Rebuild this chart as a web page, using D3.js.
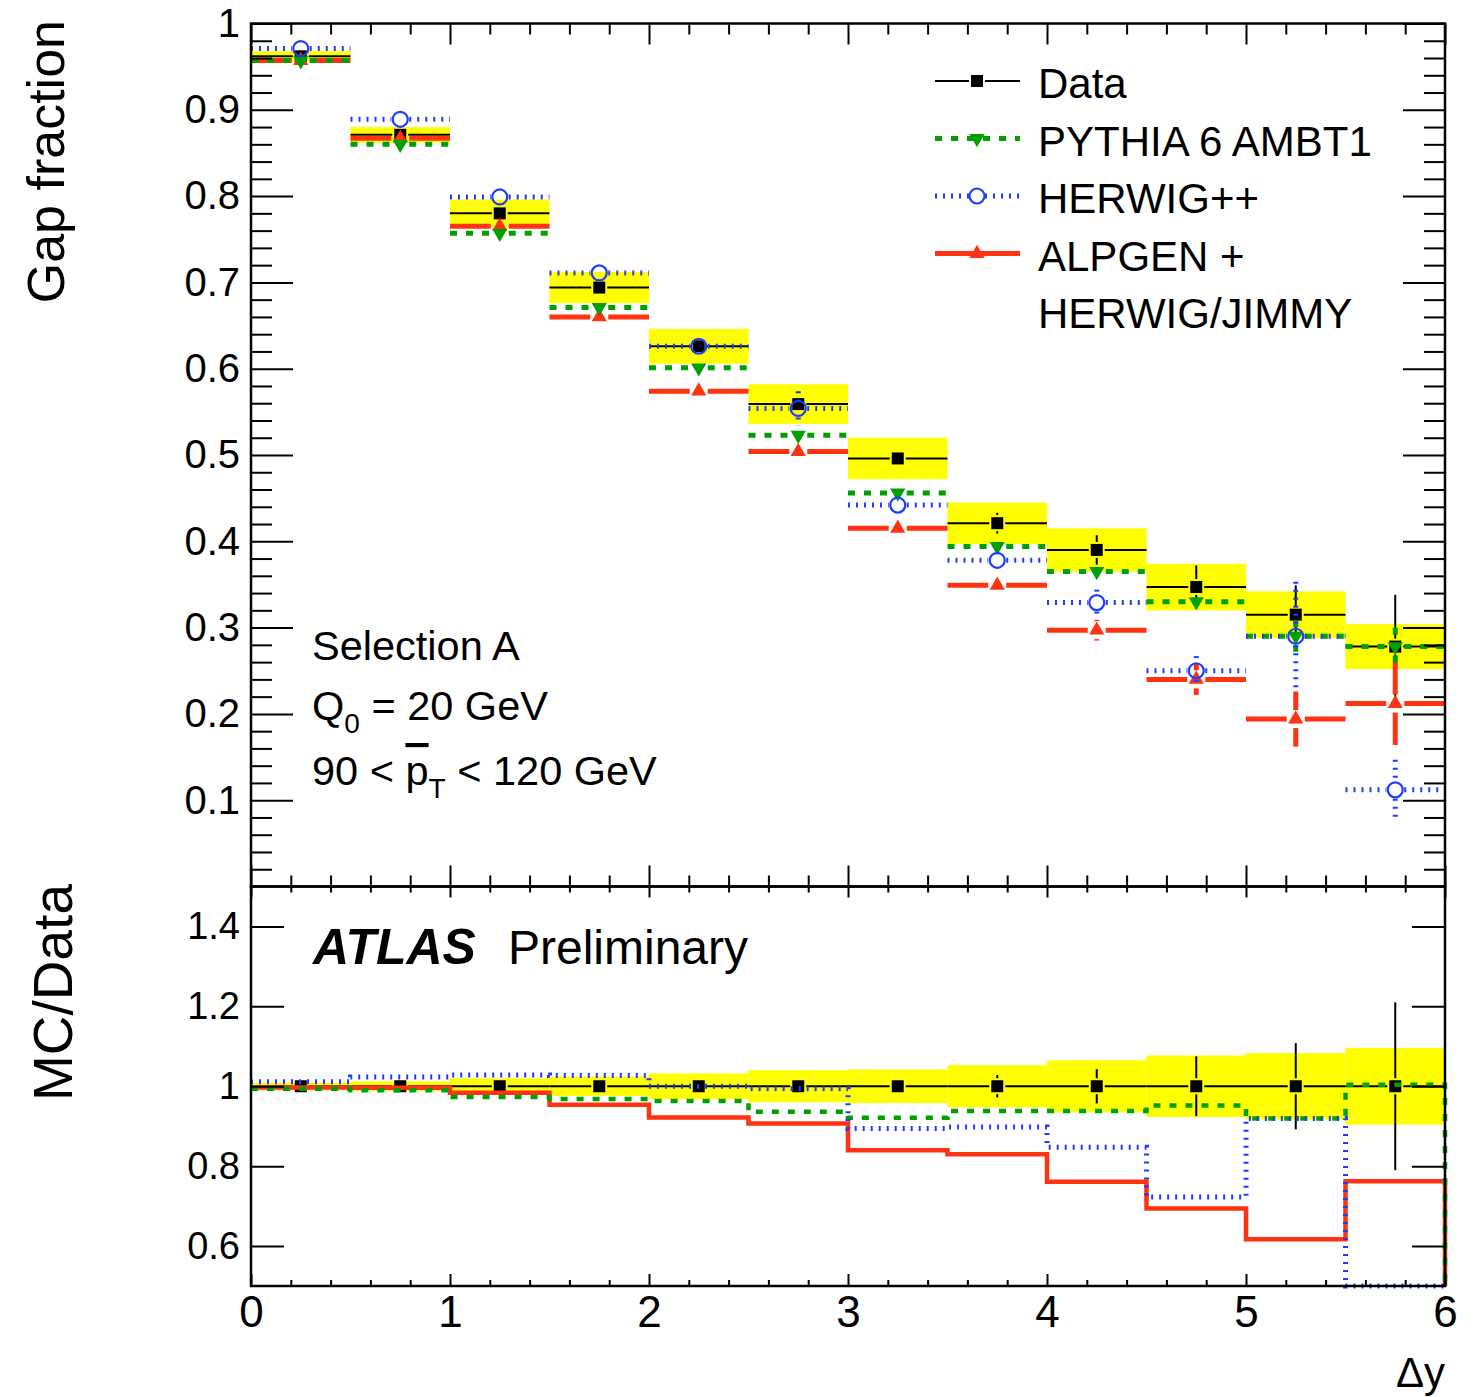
<!DOCTYPE html>
<html>
<head>
<meta charset="utf-8">
<script src="https://cdn.jsdelivr.net/npm/d3@7"></script>
<style>
  body { margin: 0; background: #fff; }
  text { font-family: "Liberation Sans", Arial, Helvetica, sans-serif; fill: #000; }
</style>
</head>
<body>
<script>
// bins in delta y
const binEdges = [0, 0.5, 1, 1.5, 2, 2.5, 3, 3.5, 4, 4.5, 5, 5.5, 6];

// gap fraction, top panel
const gapData   = [0.962, 0.871, 0.780, 0.694, 0.626, 0.559, 0.496, 0.421, 0.390, 0.347, 0.315, 0.278];
const dataStat  = [0.001, 0.002, 0.002, 0.003, 0.003, 0.004, 0.006, 0.012, 0.017, 0.025, 0.034, 0.060];
const dataSyst  = [0.006, 0.009, 0.016, 0.018, 0.020, 0.023, 0.024, 0.024, 0.025, 0.027, 0.027, 0.026];
const gapPythia = [0.957, 0.860, 0.757, 0.671, 0.601, 0.523, 0.456, 0.394, 0.365, 0.330, 0.290, 0.278];
const errPythia = [0.002, 0.002, 0.003, 0.003, 0.004, 0.005, 0.006, 0.007, 0.008, 0.010, 0.018, 0.022];
const gapHerwig = [0.971, 0.889, 0.799, 0.711, 0.626, 0.554, 0.442, 0.378, 0.329, 0.250, 0.290, 0.112];
const errHerwig = [0.003, 0.003, 0.004, 0.004, 0.005, 0.020, 0.008, 0.008, 0.015, 0.017, 0.063, 0.035];
const gapAlpgen = [0.957, 0.867, 0.765, 0.660, 0.574, 0.504, 0.415, 0.349, 0.297, 0.240, 0.194, 0.212];
const errAlpgen = [0.002, 0.002, 0.003, 0.003, 0.004, 0.005, 0.006, 0.008, 0.012, 0.018, 0.032, 0.048];

// MC/Data, bottom panel
const ratioStat   = [0.001, 0.002, 0.003, 0.004, 0.005, 0.006, 0.012, 0.028, 0.043, 0.075, 0.108, 0.210];
const ratioSyst   = [0.009, 0.012, 0.020, 0.024, 0.032, 0.040, 0.042, 0.053, 0.065, 0.077, 0.083, 0.096];
const ratioPythia = [0.994, 0.990, 0.973, 0.968, 0.963, 0.936, 0.921, 0.938, 0.938, 0.952, 0.919, 1.004];
const ratioHerwig = [1.011, 1.023, 1.028, 1.027, 1.000, 0.994, 0.894, 0.898, 0.847, 0.723, 0.919, 0.400];
const ratioAlpgen = [0.997, 0.996, 0.984, 0.954, 0.922, 0.907, 0.840, 0.830, 0.761, 0.694, 0.617, 0.762];

const topYTicks = [0.1, 0.2, 0.3, 0.4, 0.5, 0.6, 0.7, 0.8, 0.9, 1];
const botYTicks = [0.6, 0.8, 1, 1.2, 1.4];
const xTicks = [0, 1, 2, 3, 4, 5, 6];

const legendNames = ["Data", "PYTHIA 6 AMBT1", "HERWIG++", "ALPGEN +"];

const cPythia = "#00a000", cHerwig = "#1f3dff", cAlpgen = "#ff3311", cBand = "#ffff00";

const svg = d3.select("body").append("svg")
  .attr("width", 1474)
  .attr("height", 1397);

const x = d3.scaleLinear().domain([0, 6]).range([251, 1445]);
const yTop = d3.scaleLinear().domain([0, 1]).range([886.5, 23.5]);
const yBot = d3.scaleLinear().domain([0.5, 1.5]).range([1286, 886.5]).clamp(true);

const bins = d3.range(binEdges.length - 1).map(i => ({
  i: i, lo: binEdges[i], hi: binEdges[i + 1], mid: (binEdges[i] + binEdges[i + 1]) / 2
}));

const styles = {
  pythia: {color: cPythia, width: 5, dash: "7,9"},
  herwig: {color: cHerwig, width: 5, dash: "2,6"},
  alpgen: {color: cAlpgen, width: 5, dash: null}
};

function seg(g, x1, y1, x2, y2, st) {
  const l = g.append("line")
    .attr("x1", x1).attr("y1", y1).attr("x2", x2).attr("y2", y2)
    .attr("stroke", st.color).attr("stroke-width", st.width);
  if (st.dash) l.attr("stroke-dasharray", st.dash);
  return l;
}

function marker(g, kind, cx, cy) {
  if (kind === "square") {
    g.append("rect").attr("x", cx - 6).attr("y", cy - 6).attr("width", 12).attr("height", 12).attr("fill", "#000");
  } else if (kind === "down") {
    g.append("path").attr("d", d3.symbol(d3.symbolTriangle, 100)())
      .attr("transform", `translate(${cx},${cy}) rotate(180)`).attr("fill", cPythia);
  } else if (kind === "up") {
    g.append("path").attr("d", d3.symbol(d3.symbolTriangle, 100)())
      .attr("transform", `translate(${cx},${cy})`).attr("fill", cAlpgen);
  } else if (kind === "circle") {
    g.append("circle").attr("cx", cx).attr("cy", cy).attr("r", 7.5)
      .attr("fill", "none").attr("stroke", cHerwig).attr("stroke-width", 2.2);
  }
}

// horizontal bar across the bin + vertical error bar, both with a gap for the marker
function errorCross(g, b, yScale, v, e, st, kind, gap) {
  const cx = x(b.mid), cy = yScale(v);
  seg(g, x(b.lo), cy, cx - gap, cy, st);
  seg(g, cx + gap, cy, x(b.hi), cy, st);
  const yu = yScale(v + e), yd = yScale(v - e);
  if (yu < cy - gap) seg(g, cx, yu, cx, cy - gap, st);
  if (yd > cy + gap) seg(g, cx, cy + gap, cx, yd, st);
  marker(g, kind, cx, cy);
}

// ---------------- top panel ----------------
const gTop = svg.append("g");

gTop.selectAll("rect.band").data(bins).join("rect")
  .attr("class", "band")
  .attr("x", d => x(d.lo)).attr("width", d => x(d.hi) - x(d.lo))
  .attr("y", d => yTop(gapData[d.i] + dataSyst[d.i]))
  .attr("height", d => yTop(gapData[d.i] - dataSyst[d.i]) - yTop(gapData[d.i] + dataSyst[d.i]))
  .attr("fill", cBand);

const dataStyle = {color: "#000", width: 2, dash: null};
bins.forEach(b => errorCross(gTop, b, yTop, gapData[b.i], dataStat[b.i], dataStyle, "square", 8));
bins.forEach(b => errorCross(gTop, b, yTop, gapAlpgen[b.i], errAlpgen[b.i], styles.alpgen, "up", 9));
bins.forEach(b => errorCross(gTop, b, yTop, gapPythia[b.i], errPythia[b.i], styles.pythia, "down", 9));
bins.forEach(b => errorCross(gTop, b, yTop, gapHerwig[b.i], errHerwig[b.i], styles.herwig, "circle", 9));

// ---------------- bottom panel ----------------
const gBot = svg.append("g");

gBot.selectAll("rect.band").data(bins).join("rect")
  .attr("class", "band")
  .attr("x", d => x(d.lo)).attr("width", d => x(d.hi) - x(d.lo))
  .attr("y", d => yBot(1 + ratioSyst[d.i]))
  .attr("height", d => yBot(1 - ratioSyst[d.i]) - yBot(1 + ratioSyst[d.i]))
  .attr("fill", cBand);

bins.forEach(b => errorCross(gBot, b, yBot, 1, ratioStat[b.i], dataStyle, "square", 8));

// histogram outline: starts at the first bin level, drops to the floor after the last bin
const stepLine = d3.line().x(d => x(d[0])).y(d => yBot(d[1])).curve(d3.curveStepAfter);
function stepPoints(vals) {
  const pts = vals.map((v, i) => [binEdges[i], v]);
  pts.push([binEdges[binEdges.length - 1], 0]);
  return pts;
}
[[ratioAlpgen, styles.alpgen, 4.5], [ratioPythia, styles.pythia, 4.5], [ratioHerwig, styles.herwig, 5]].forEach(([vals, st, w]) => {
  const p = gBot.append("path")
    .attr("d", stepLine(stepPoints(vals)))
    .attr("fill", "none")
    .attr("stroke", st.color)
    .attr("stroke-width", w);
  if (st.dash) p.attr("stroke-dasharray", st.dash);
});

// ---------------- axes ----------------
function styleAxis(g, fontSize) {
  g.select(".domain").remove();
  g.selectAll(".tick line").attr("stroke", "#000").attr("stroke-width", 2);
  g.selectAll(".tick text").attr("font-size", fontSize).attr("fill", "#000")
    .attr("font-family", "Liberation Sans, Arial, sans-serif");
}
const fmt = d3.format("~g");
const xMinor = d3.range(0, 6.001, 0.2).filter(v => Math.abs(v - Math.round(v)) > 1e-6);
const yMinor = d3.range(0, 1.0001, 0.02).filter(v => Math.abs(v * 10 - Math.round(v * 10)) > 1e-6);

// top panel x ticks
svg.append("g").attr("transform", "translate(0,23.5)")
  .call(d3.axisTop(x).tickValues(xTicks).tickSize(-21).tickFormat("")).call(g => styleAxis(g, 0));
svg.append("g").attr("transform", "translate(0,23.5)")
  .call(d3.axisTop(x).tickValues(xMinor).tickSize(-11).tickFormat("")).call(g => styleAxis(g, 0));
svg.append("g").attr("transform", "translate(0,886.5)")
  .call(d3.axisBottom(x).tickValues(xTicks).tickSize(-21).tickFormat("")).call(g => styleAxis(g, 0));
svg.append("g").attr("transform", "translate(0,886.5)")
  .call(d3.axisBottom(x).tickValues(xMinor).tickSize(-11).tickFormat("")).call(g => styleAxis(g, 0));

// top panel y ticks
svg.append("g").attr("transform", "translate(251,0)")
  .call(d3.axisLeft(yTop).tickValues(topYTicks).tickSizeInner(-42).tickSizeOuter(0).tickPadding(11).tickFormat(fmt))
  .call(g => styleAxis(g, 40));
svg.append("g").attr("transform", "translate(251,0)")
  .call(d3.axisLeft(yTop).tickValues(yMinor).tickSize(-21).tickFormat("")).call(g => styleAxis(g, 0));
svg.append("g").attr("transform", "translate(1445,0)")
  .call(d3.axisRight(yTop).tickValues(topYTicks).tickSize(-42).tickFormat("")).call(g => styleAxis(g, 0));
svg.append("g").attr("transform", "translate(1445,0)")
  .call(d3.axisRight(yTop).tickValues(yMinor).tickSize(-21).tickFormat("")).call(g => styleAxis(g, 0));

// bottom panel x ticks
svg.append("g").attr("transform", "translate(0,886.5)")
  .call(d3.axisTop(x).tickValues(xTicks).tickSize(-11).tickFormat("")).call(g => styleAxis(g, 0));
svg.append("g").attr("transform", "translate(0,886.5)")
  .call(d3.axisTop(x).tickValues(xMinor).tickSize(-6).tickFormat("")).call(g => styleAxis(g, 0));
svg.append("g").attr("transform", "translate(0,1286)")
  .call(d3.axisBottom(x).tickValues(xTicks).tickSizeInner(-12).tickSizeOuter(0).tickPadding(10).tickFormat(fmt))
  .call(g => styleAxis(g, 44));
svg.append("g").attr("transform", "translate(0,1286)")
  .call(d3.axisBottom(x).tickValues(xMinor).tickSize(-6).tickFormat("")).call(g => styleAxis(g, 0));

// bottom panel y ticks
svg.append("g").attr("transform", "translate(251,0)")
  .call(d3.axisLeft(yBot).tickValues(botYTicks).tickSizeInner(-33).tickSizeOuter(0).tickPadding(11).tickFormat(fmt))
  .call(g => styleAxis(g, 38));
svg.append("g").attr("transform", "translate(1445,0)")
  .call(d3.axisRight(yBot).tickValues(botYTicks).tickSize(-33).tickFormat("")).call(g => styleAxis(g, 0));

// frames
svg.append("rect").attr("x", 251).attr("y", 23.5).attr("width", 1194).attr("height", 863)
  .attr("fill", "none").attr("stroke", "#000").attr("stroke-width", 2.5);
svg.append("rect").attr("x", 251).attr("y", 886.5).attr("width", 1194).attr("height", 399.5)
  .attr("fill", "none").attr("stroke", "#000").attr("stroke-width", 2.5);

// axis titles
svg.append("text").attr("transform", "translate(64,20) rotate(-90)")
  .attr("text-anchor", "end").attr("font-size", 52).text("Gap fraction");
svg.append("text").attr("transform", "translate(72,884) rotate(-90)")
  .attr("text-anchor", "end").attr("font-size", 55).text("MC/Data");
svg.append("text").attr("x", 1445).attr("y", 1387)
  .attr("text-anchor", "end").attr("font-size", 42).text("Δy");

// ---------------- legend ----------------
const leg = svg.append("g");
const legRows = [
  {y: 81, st: dataStyle, kind: "square"},
  {y: 138.5, st: styles.pythia, kind: "down"},
  {y: 196, st: styles.herwig, kind: "circle"},
  {y: 253.5, st: styles.alpgen, kind: "up"}
];
legRows.forEach((r, k) => {
  if (r.kind === "circle" || r.kind === "square") {
    seg(leg, 935, r.y, 969, r.y, r.st);
    seg(leg, 985, r.y, 1020, r.y, r.st);
  } else {
    seg(leg, 935, r.y, 1020, r.y, r.st);
  }
  marker(leg, r.kind, 977, r.y);
  leg.append("text").attr("x", 1038).attr("y", r.y + 17).attr("font-size", 42).text(legendNames[k]);
});
leg.append("text").attr("x", 1038).attr("y", 328).attr("font-size", 42).text("HERWIG/JIMMY");

// ---------------- annotations ----------------
svg.append("text").attr("x", 312).attr("y", 660).attr("font-size", 41.5).text("Selection A");
const q = svg.append("text").attr("x", 312).attr("y", 720).attr("font-size", 41.5);
q.append("tspan").text("Q");
q.append("tspan").attr("font-size", 28).attr("dy", 13).text("0");
q.append("tspan").attr("dy", -13).text(" = 20 GeV");
const pt = svg.append("text").attr("x", 312).attr("y", 785).attr("font-size", 41.5);
pt.append("tspan").text("90 < ");
pt.append("tspan").style("text-decoration", "overline").text("p");
pt.append("tspan").attr("font-size", 28).attr("dy", 13).text("T");
pt.append("tspan").attr("dy", -13).text(" < 120 GeV");

svg.append("text").attr("x", 313).attr("y", 964).attr("font-size", 50)
  .attr("font-weight", "bold").attr("font-style", "italic").text("ATLAS");
svg.append("text").attr("x", 508).attr("y", 964).attr("font-size", 48).text("Preliminary");
</script>
</body>
</html>
